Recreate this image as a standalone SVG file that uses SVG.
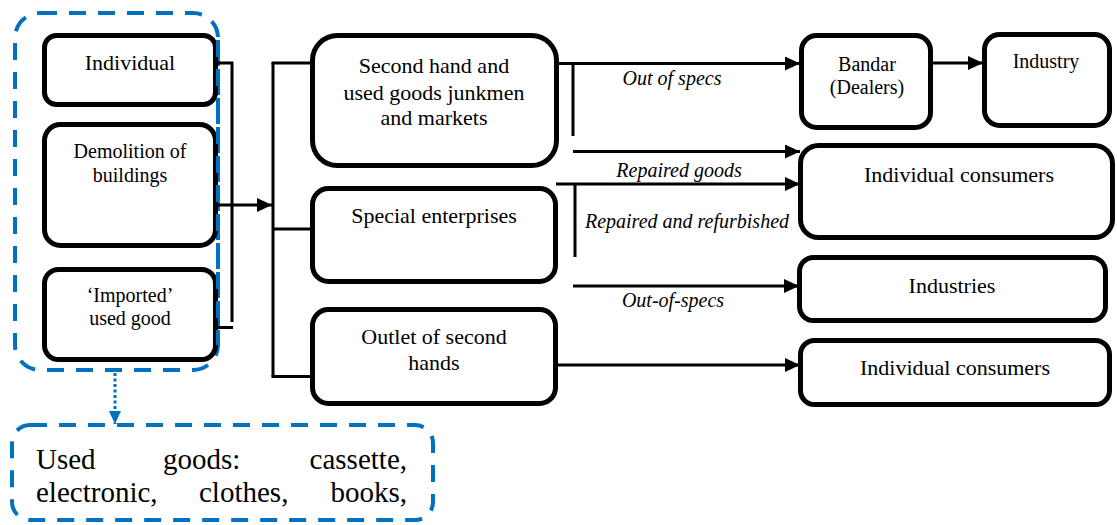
<svg xmlns="http://www.w3.org/2000/svg" width="1117" height="525" viewBox="0 0 1117 525" font-family="'Liberation Serif', 'Times New Roman', Tinos, 'DejaVu Serif', serif">
  <style>
    .box { fill: #ffffff; stroke: #000000; stroke-width: 5; }
    .t { fill: #000000; text-anchor: middle; }
    .t22 { font-size: 22px; }
    .t20 { font-size: 20px; }
    .lbl { font-style: italic; font-size: 20px; fill: #000000; text-anchor: middle; }
    .ln { fill: none; stroke: #000000; stroke-width: 3; }
    .arr { fill: none; stroke: #000000; stroke-width: 3; marker-end: url(#ah); }
    .blue { fill: none; stroke: #0070C0; stroke-width: 4; stroke-dasharray: 17 12; }
    .big { font-size: 29px; fill: #000000; }
  </style>
  <defs>
    <marker id="ah" viewBox="0 0 15 14" refX="15" refY="7" markerWidth="15" markerHeight="14" markerUnits="userSpaceOnUse" orient="auto">
      <path d="M0,0 L15,7 L0,14 z" fill="#000000"/>
    </marker>
    <marker id="bah" viewBox="0 0 13 12" refX="13" refY="6" markerWidth="13" markerHeight="12" markerUnits="userSpaceOnUse" orient="auto">
      <path d="M0,0 L13,6 L0,12 z" fill="#0070C0"/>
    </marker>
  </defs>

  <g id="sources-group">
    <rect class="blue" x="15" y="13" width="203" height="357" rx="25"/>
  </g>

  <g id="individual">
    <rect class="box" x="44.5" y="35.5" width="171" height="69" rx="12"/>
    <text class="t t22" x="130" y="70">Individual</text>
  </g>
  <g id="demolition">
    <rect class="box" x="44.5" y="124.5" width="171" height="121" rx="16"/>
    <text class="t t20" x="130" y="158">Demolition of</text>
    <text class="t t20" x="130" y="182">buildings</text>
  </g>
  <g id="imported">
    <rect class="box" x="44.5" y="269.5" width="171" height="90" rx="14"/>
    <text class="t t20" x="130" y="302">‘Imported’</text>
    <text class="t t20" x="130" y="325">used good</text>
  </g>

  <g id="sources-group-edge">
    <path class="blue" d="M218,40 L218,345"/>
  </g>

  <g id="second-hand">
    <rect class="box" x="312.5" y="35.5" width="244" height="130" rx="25"/>
    <text class="t t22" x="434" y="73">Second hand and</text>
    <text class="t t22" x="434" y="100">used goods junkmen</text>
    <text class="t t22" x="434" y="125">and markets</text>
  </g>
  <g id="special">
    <rect class="box" x="312.5" y="188.5" width="243" height="93" rx="16"/>
    <text class="t t22" x="434" y="223">Special enterprises</text>
  </g>
  <g id="outlet">
    <rect class="box" x="312.5" y="309.5" width="243" height="94" rx="16"/>
    <text class="t t22" x="434" y="344">Outlet of second</text>
    <text class="t t22" x="434" y="370">hands</text>
  </g>

  <g id="bandar">
    <rect class="box" x="801.5" y="35.5" width="129" height="92" rx="15"/>
    <text class="t t20" x="867" y="71">Bandar</text>
    <text class="t t20" x="867" y="94">(Dealers)</text>
  </g>
  <g id="industry">
    <rect class="box" x="984.5" y="34.5" width="125" height="91" rx="15"/>
    <text class="t t20" x="1046" y="68">Industry</text>
  </g>
  <g id="consumers-top">
    <rect class="box" x="800.5" y="145.5" width="312" height="92" rx="18"/>
    <text class="t t22" x="959" y="182">Individual consumers</text>
  </g>
  <g id="industries">
    <rect class="box" x="799.5" y="257.5" width="306" height="63" rx="14"/>
    <text class="t t22" x="952" y="293">Industries</text>
  </g>
  <g id="consumers-bottom">
    <rect class="box" x="800.5" y="340.5" width="309" height="64" rx="14"/>
    <text class="t t22" x="955" y="375">Individual consumers</text>
  </g>

  <g id="used-goods-note">
    <rect class="blue" x="12" y="425" width="421" height="95" rx="18"/>
    <text class="big" x="36" y="469">Used</text>
    <text class="big" x="163" y="469">goods:</text>
    <text class="big" x="407" y="469" text-anchor="end">cassette,</text>
    <text class="big" x="36" y="502">electronic,</text>
    <text class="big" x="199" y="502">clothes,</text>
    <text class="big" x="407" y="502" text-anchor="end">books,</text>
  </g>

  <g id="connectors">
    <path class="ln" d="M218,63 L232,63 L232,322"/>
    <path class="ln" d="M218,327.5 L233,327.5"/>
    <path class="arr" d="M218,205 L272,205"/>
    <path class="ln" d="M273,63 L273,376.5"/>
    <path class="ln" d="M271.5,63 L312,63"/>
    <path class="ln" d="M273,229 L312,229"/>
    <path class="ln" d="M271.5,376.5 L312,376.5"/>
    <path class="arr" d="M557,63.5 L800,63.5"/>
    <path class="ln" d="M573,63.5 L573,136"/>
    <path class="arr" d="M573,151.5 L800,151.5"/>
    <path class="arr" d="M556,184 L800,184"/>
    <path class="ln" d="M575,184 L575,257"/>
    <path class="arr" d="M573,286 L799,286"/>
    <path class="arr" d="M557,365 L800,365"/>
    <path class="arr" d="M933,63 L983,63"/>
    <path d="M115,373 L115,424" fill="none" stroke="#0070C0" stroke-width="3" stroke-dasharray="3 2.5" marker-end="url(#bah)"/>
  </g>

  <g id="labels">
    <text class="lbl" x="672" y="85">Out of specs</text>
    <text class="lbl" x="679" y="177">Repaired goods</text>
    <text class="lbl" x="687" y="228">Repaired and refurbished</text>
    <text class="lbl" x="673" y="307">Out-of-specs</text>
  </g>
</svg>
